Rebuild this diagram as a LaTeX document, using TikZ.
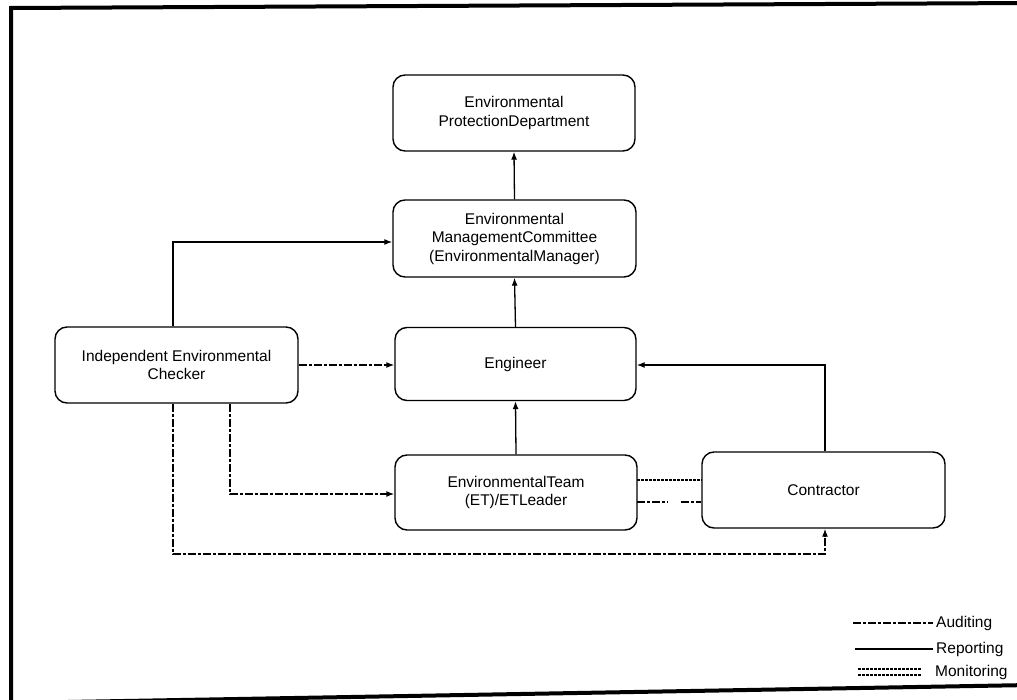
\documentclass[tikz,border=0pt]{standalone}
\usepackage{fontspec}
\setmainfont{Liberation Sans}
\usetikzlibrary{arrows.meta}
\begin{document}
\begin{tikzpicture}[x=1pt,y=-1pt,
  box/.style={draw,line width=1.4pt,rounded corners=12pt,align=center,
    font=\fontsize{15.5}{18.5}\selectfont,inner sep=0pt},
  arr/.style={line width=1.3pt,-{Latex[length=8pt,width=6pt]}},
  report/.style={arr},
  audit/.style={arr,dash pattern=on 8pt off 2pt on 3pt off 2pt},
  monitor/.style={line width=1.6pt,dash pattern=on 2.5pt off 1.5pt},
  legtxt/.style={anchor=west,font=\fontsize{15.5}{18}\selectfont,inner sep=0pt}]
\useasboundingbox (0,0) rectangle (1017,700);
% frame
\draw[line width=4pt] (1030,685) -- (11,703) -- (11,8) -- (1030,3);
% boxes
\node[box,minimum width=242pt,minimum height=76pt] (epd) at (514,113) {Environmental\\ProtectionDepartment};
\node[box,minimum width=243pt,minimum height=77pt] (emc) at (514.5,238.5) {Environmental\\ManagementCommittee\\(EnvironmentalManager)};
\node[box,minimum width=243pt,minimum height=76pt] (iec) at (176.5,365) {Independent Environmental\\Checker};
\node[box,minimum width=241pt,minimum height=73pt] (eng) at (515.5,364) {Engineer};
\node[box,minimum width=242pt,minimum height=75pt] (et) at (516,492.5) {EnvironmentalTeam\\(ET)/ETLeader};
\node[box,minimum width=243pt,minimum height=76pt] (con) at (823.5,490) {Contractor};
% reporting
\draw[report] (emc.north) -- (epd.south);
\draw[report] (eng.north) -- (emc.south);
\draw[report] (et.north) -- (eng.south);
\coordinate (c1) at (173,242);
\draw[report] (iec.north -| c1) -- (c1) -- (c1 -| emc.west);
\coordinate (c2) at (825,365);
\draw[report] (con.north -| c2) -- (c2) -- (c2 -| eng.east);
% auditing
\draw[audit] (iec.east |- 0,365) -- (eng.west |- 0,365);
\coordinate (a1) at (230,494);
\draw[audit] (iec.south -| a1) -- (a1) -- (a1 -| et.west);
\coordinate (a2) at (173,554);
\coordinate (a3) at (825,554);
\draw[audit] (iec.south -| a2) -- (a2) -- (a3) -- (a3 |- con.south);
% ET - Contractor
\coordinate (m1) at (637,480);
\draw[monitor] (m1) -- (m1 -| con.west);
\coordinate (d1) at (637,502);
\coordinate (d2) at (668,502);
\coordinate (d3) at (681,502);
\draw[line width=1.3pt,dash pattern=on 8pt off 2pt on 3pt off 2pt] (d1) -- (d2);
\draw[line width=1.3pt,dash pattern=on 8pt off 2pt on 3pt off 2pt] (d3) -- (d3 -| con.west);
% legend
\coordinate (l1) at (853,623);
\coordinate (l2) at (933,623);
\draw[line width=1.3pt,dash pattern=on 8pt off 2pt on 3pt off 2pt] (l1) -- (l2);
\node[legtxt] (lt1) at (936,623) {Auditing};
\coordinate (l3) at (855,649);
\coordinate (l4) at (933,649);
\draw[line width=1.3pt] (l3) -- (l4);
\node[legtxt] (lt2) at (936,649) {Reporting};
\coordinate (l5) at (858,669);
\coordinate (l6) at (922,669);
\coordinate (l7) at (858,675);
\coordinate (l8) at (922,675);
\draw[monitor,line width=1.4pt] (l5) -- (l6);
\draw[monitor,line width=1.4pt] (l7) -- (l8);
\node[legtxt] (lt3) at (935,672) {Monitoring};
\end{tikzpicture}
\end{document}
